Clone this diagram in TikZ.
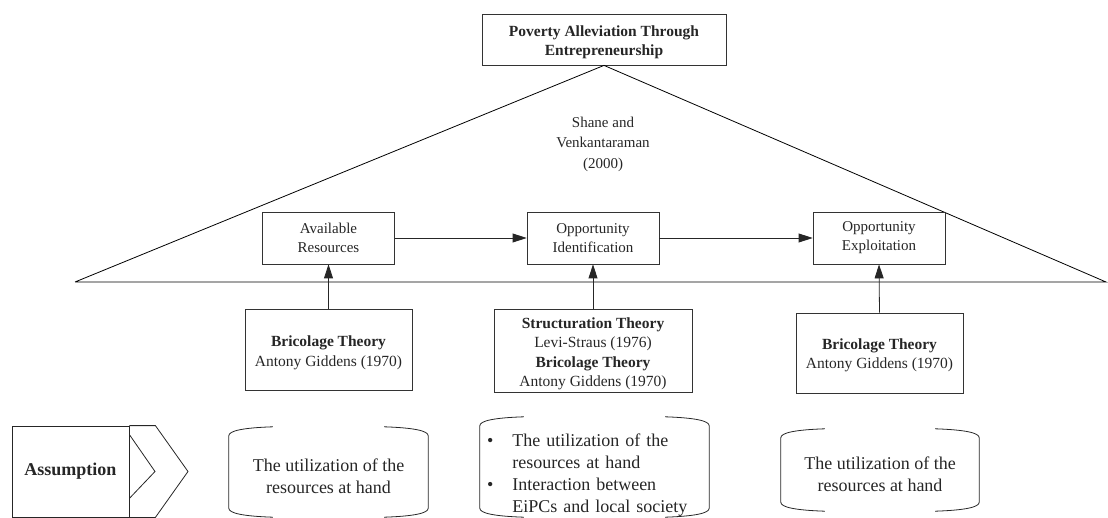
\documentclass[tikz,border=0pt]{standalone}
\usepackage{fontspec}
\setmainfont{Liberation Serif}
\usetikzlibrary{arrows.meta}

\newcommand{\lowered}[2]{\raisebox{-#1}[\height][\depth]{\begin{tabular}{@{}c@{}}#2\end{tabular}}}

\begin{document}
\begin{tikzpicture}[x=1pt, y=-1pt,
      box/.style={rectangle,draw=black!80,line width=0.8pt,minimum width=132pt,minimum height=52pt,align=center,inner sep=2pt,font=\fontsize{15}{19}\selectfont,text=black!85},
      theory/.style={rectangle,draw=black!80,line width=0.8pt,minimum width=167pt,align=center,inner sep=2pt,font=\fontsize{15.5}{19.5}\selectfont,text=black!85},
      can/.style={rectangle,align=center,inner sep=0pt,font=\fontsize{18}{22}\selectfont,text=black!85},
      arr/.style={-{Triangle[length=14pt,width=9pt]},line width=0.8pt,draw=black!85}
    ]
      \useasboundingbox (0,0) rectangle (1108,518);

      % goal and triangle
      \node[box,minimum width=244pt,minimum height=51pt,font=\bfseries\fontsize{15.5}{19}\selectfont] (goal) at (604,39.5) {\lowered{3pt}{Poverty Alleviation Through\\Entrepreneurship}};
      \coordinate (lv) at (75,282);
      \coordinate (rv) at (1106,282);
      \draw[line width=0.8pt] (lv) -- (goal.south) -- (rv) -- (lv);
      \node[align=center,font=\fontsize{15}{20.5}\selectfont,text=black!85] (shane) at (603,144) {Shane and\\Venkantaraman\\(2000)};

      % process
      \node[box] (res) at (328.5,238) {Available\\Resources};
      \node[box] (oid) at (593,238) {Opportunity\\Identification};
      \node[box] (oex) at (879,238) {Opportunity\\Exploitation};

      % theories
      \node[theory,minimum height=81pt] (thA) at (328.5,349.5) {\lowered{3pt}{\textbf{Bricolage Theory}\\Antony Giddens (1970)}};
      \node[theory,minimum width=198pt,minimum height=83pt] (thB) at (593,350.5) {\lowered{3pt}{\textbf{Structuration Theory}\\Levi-Straus (1976)\\\textbf{Bricolage Theory}\\Antony Giddens (1970)}};
      \node[theory,minimum height=80pt] (thC) at (879.5,353) {\lowered{2pt}{\textbf{Bricolage Theory}\\Antony Giddens (1970)}};

      \draw[arr] (res) -- (oid);
      \draw[arr] (oid) -- (oex);
      \draw[arr] (thA) -- (res);
      \draw[arr] (thB) -- (oid);
      \draw[arr] (thC.north) -- (oex.south);

      % assumptions
      \node[rectangle,draw=black!85,line width=0.8pt,minimum width=117pt,minimum height=91pt,font=\bfseries\fontsize{18}{22}\selectfont,text=black!85] (assume) at (70.5,471.5) {Assumption};
      \draw[line width=0.8pt,draw=black!85] (assume.north east) -- ++(26,0) -- (188,471.5) -- ([xshift=26pt]assume.south east) -- (assume.south east);
      \draw[line width=0.8pt,draw=black!85] ([yshift=-9pt]assume.north east) -- (155,471.5) -- ([yshift=19pt]assume.south east);

      \node[can,minimum width=199pt,minimum height=90pt] (canA) at (328.5,472) {\lowered{6pt}{The utilization of the\\resources at hand}};
      \node[can,minimum width=229pt,minimum height=100pt,text width=215pt,align=left] (canB) at (594.5,467) {\raisebox{-8pt}[\height][\depth]{%
        \begin{tabular}{@{}l@{\hspace{19pt}}l@{}}
        \textbullet & The utilization of the\\
                    & resources at hand\\
        \textbullet & Interaction between\\
                    & EiPCs and local society
        \end{tabular}}};
      \node[can,minimum width=198pt,minimum height=82pt] (canC) at (880,470) {\lowered{6pt}{The utilization of the\\resources at hand}};

      \foreach \n in {canA,canB,canC} {
        \draw[line width=0.8pt,draw=black!85] ([xshift=44pt]\n.north west) .. controls ([xshift=14pt,yshift=-1pt]\n.north west) and ([yshift=-4pt]\n.north west) .. ([yshift=-9pt]\n.north west) -- ([yshift=9pt]\n.south west) .. controls ([yshift=4pt]\n.south west) and ([xshift=14pt,yshift=1pt]\n.south west) .. ([xshift=44pt]\n.south west);
        \draw[line width=0.8pt,draw=black!85] ([xshift=-44pt]\n.north east) .. controls ([xshift=-14pt,yshift=-1pt]\n.north east) and ([yshift=-4pt]\n.north east) .. ([yshift=-9pt]\n.north east) -- ([yshift=9pt]\n.south east) .. controls ([yshift=4pt]\n.south east) and ([xshift=-14pt,yshift=1pt]\n.south east) .. ([xshift=-44pt]\n.south east);
      }
    \end{tikzpicture}
\end{document}
